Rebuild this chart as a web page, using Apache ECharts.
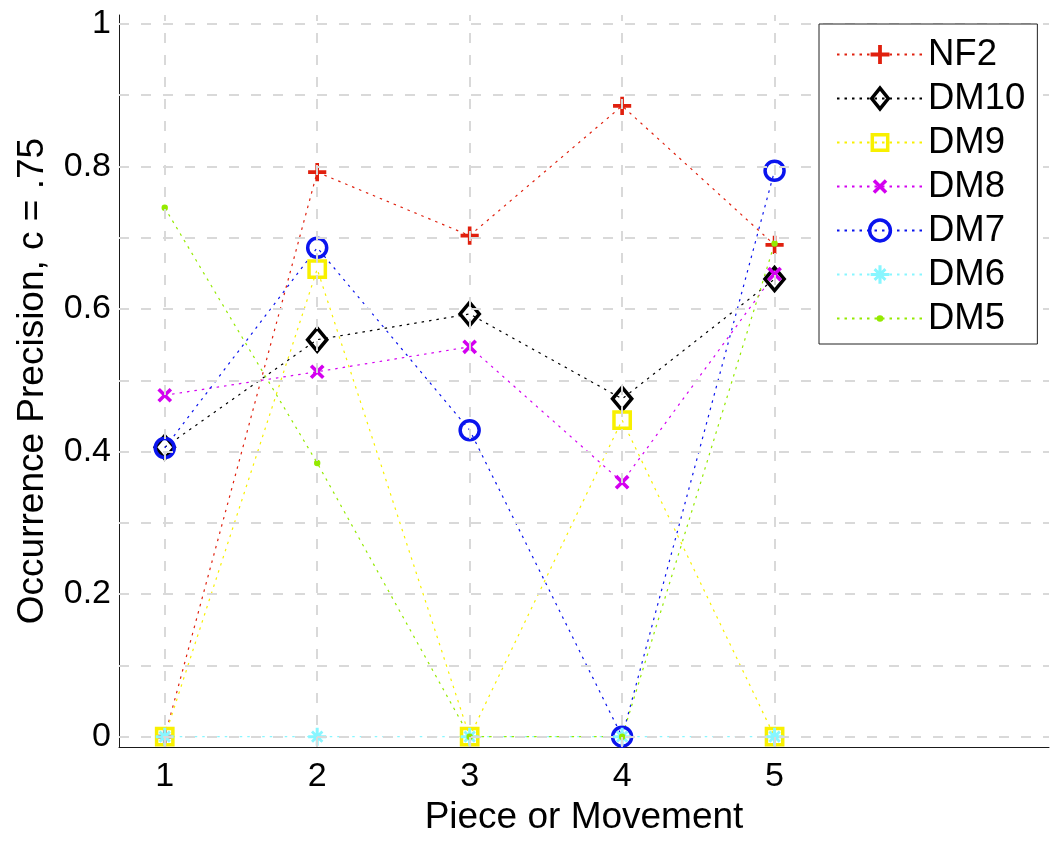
<!DOCTYPE html>
<html>
<head>
<meta charset="utf-8">
<script src="https://cdn.jsdelivr.net/npm/echarts@6/dist/echarts.min.js"></script>
<style>
html,body{margin:0;padding:0;background:#fff;}
#chart{width:1054px;height:841px;}
</style>
</head>
<body>
<div id="chart"></div>
<script>
// ---- data ----
var pieces = [1, 2, 3, 4, 5];
var yTicks = [0, 0.2, 0.4, 0.6, 0.8, 1];
var yGrid = [0, 0.1, 0.2, 0.3, 0.4, 0.5, 0.6, 0.7, 0.8, 0.9, 1];
var seriesNames = ['NF2', 'DM10', 'DM9', 'DM8', 'DM7', 'DM6', 'DM5'];
var NF2  = [0, 0.792, 0.703, 0.885, 0.690];
var DM10 = [0.406, 0.557, 0.593, 0.474, 0.642];
var DM9  = [0, 0.656, 0, 0.444, 0];
var DM8  = [0.479, 0.512, 0.547, 0.357, 0.649];
var DM7  = [0.405, 0.686, 0.430, 0, 0.794];
var DM6  = [0, 0, 0, 0, 0];
var DM5  = [0.742, 0.384, 0, 0, 0.692];
var seriesValues = [NF2, DM10, DM9, DM8, DM7, DM6, DM5];

// ---- styles ----
var FONT = 'Liberation Sans, Arial, Helvetica, sans-serif';
var PAD = 'M0,0L0,0M10,10L10,10';
var symPlus = 'path://M0,0L0,0M11,11L11,11M4.5,0.5H6.5V4.5H10.5V6.5H6.5V10.5H4.5V6.5H0.5V4.5H4.5Z';
var symDiamond = 'path://' + PAD + 'M5,0L9,5L5,10L1,5Z';
var symSquare = 'path://' + PAD + 'M1.3,1.3H8.7V8.7H1.3Z';
var symX = 'path://' + PAD + 'M2.7,1.5L5,3.8L7.3,1.5L8.5,2.7L6.2,5L8.5,7.3L7.3,8.5L5,6.2L2.7,8.5L1.5,7.3L3.8,5L1.5,2.7Z';
var symAst = 'path://' + PAD + 'M4.25,0.5H5.75V4.25H9.5V5.75H5.75V9.5H4.25V5.75H0.5V4.25H4.25Z' +
  'M1.9,2.9L2.9,1.9L5,4L7.1,1.9L8.1,2.9L6,5L8.1,7.1L7.1,8.1L5,6L2.9,8.1L1.9,7.1L4,5Z';
var symDot = 'path://' + PAD + 'M5,3.4A1.6,1.6,0,1,1,5,6.6A1.6,1.6,0,1,1,5,3.4Z';

var styles = [
  {color:'#e0200e', symbol:symPlus, size:20, fill:'#e0200e', border:0},
  {color:'#000000', symbol:symDiamond, size:[24,23], fill:'rgba(0,0,0,0)', border:3.5},
  {color:'#f8f000', symbol:symSquare, size:22, fill:'rgba(0,0,0,0)', border:3.5},
  {color:'#d400f0', symbol:symX, size:21, fill:'#d400f0', border:0},
  {color:'#0a14ee', symbol:'circle', size:19, fill:'rgba(0,0,0,0)', border:3.5},
  {color:'#88f6ff', symbol:symAst, size:20, fill:'#88f6ff', border:0},
  {color:'#94ea00', symbol:symDot, size:20, fill:'#94ea00', border:0}
];

var series = [];
// grid lines (drawn behind the data)
series.push({
  name: 'grid', type: 'line', data: [], silent: true, z: 0,
  markLine: {
    silent: true, symbol: ['none', 'none'], animation: false,
    label: {show: false}, emphasis: {disabled: true},
    lineStyle: {color: '#d9d9d9', type: [10, 12], width: 2},
    data: pieces.map(function(v){ return {xAxis: v}; })
      .concat(yGrid.map(function(v){ return {yAxis: v}; }))
  }
});
seriesNames.forEach(function(name, i){
  var s = styles[i];
  series.push({
    name: name, type: 'line', z: 2,
    data: pieces.map(function(x, j){ return [x, seriesValues[i][j]]; }),
    symbol: s.symbol, symbolSize: s.size, showSymbol: true,
    lineStyle: {color: s.color, width: 1.2, type: [2.5, 5]},
    itemStyle: {color: s.fill, borderColor: s.color, borderWidth: s.border},
    emphasis: {disabled: true},
    animation: false
  });
});

var legendData = seriesNames.map(function(name, i){
  var s = styles[i];
  var item = {name: name};
  if (s.border > 0) {
    item.itemStyle = {borderWidth: s.border, borderColor: s.color, color: s.fill};
  }
  return item;
});

var chart = echarts.init(document.getElementById('chart'), null, {renderer: 'canvas'});
chart.setOption({
  backgroundColor: '#ffffff',
  animation: false,
  textStyle: {fontFamily: FONT},
  grid: {left: 119, right: 5, top: 15, bottom: 94, containLabel: false},
  xAxis: {
    type: 'value', min: 0.7, max: 6.8,
    name: 'Piece or Movement', nameLocation: 'middle', nameGap: 46,
    nameTextStyle: {fontSize: 37, color: '#000', fontFamily: FONT},
    axisLine: {show: true, onZero: false, lineStyle: {color: '#1a1a1a', width: 1}},
    axisTick: {show: false},
    splitLine: {show: false},
    axisLabel: {customValues: pieces, fontSize: 34, color: '#000', margin: 13, fontFamily: FONT}
  },
  yAxis: {
    type: 'value', min: -0.0145, max: 1.0125,
    name: 'Occurrence Precision, c = .75', nameLocation: 'middle', nameGap: 68, nameRotate: 90,
    nameTextStyle: {fontSize: 37, color: '#000', fontFamily: FONT},
    axisLine: {show: true, onZero: false, lineStyle: {color: '#1a1a1a', width: 1}},
    axisTick: {show: false},
    splitLine: {show: false},
    axisLabel: {customValues: yTicks, fontSize: 34, color: '#000', margin: 8, fontFamily: FONT,
      formatter: function(v){ return String(v); }}
  },
  legend: {
    data: legendData, orient: 'vertical', align: 'left',
    left: 819, top: 24,
    padding: [12, 12, 7, 17],
    itemWidth: 86, itemHeight: 26, itemGap: 7, itemTextGap: 10,
    backgroundColor: '#ffffff', borderColor: '#222', borderWidth: 1, borderRadius: 0,
    textStyle: {fontSize: 36.5, color: '#000', fontFamily: FONT, lineHeight: 36},
    selectedMode: false, z: 10
  },
  series: series
});
</script>
</body>
</html>
